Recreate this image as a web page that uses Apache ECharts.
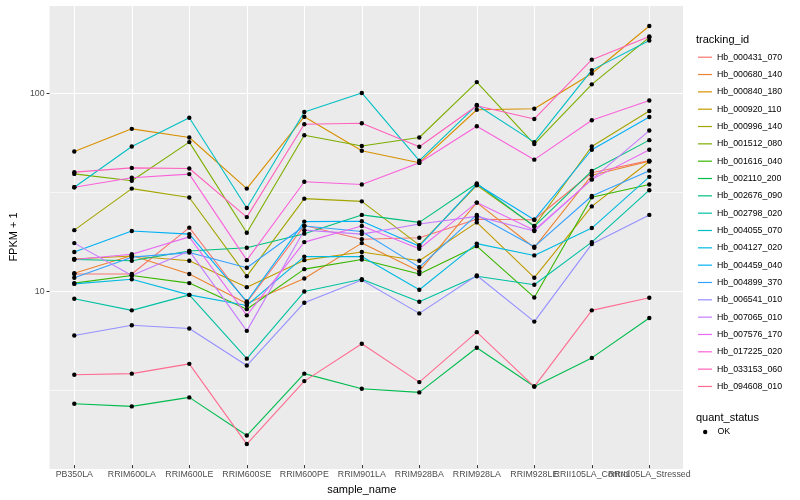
<!DOCTYPE html>
<html><head><meta charset="utf-8">
<script src="https://cdn.jsdelivr.net/npm/echarts@6/dist/echarts.min.js"></script>
<style>html,body{margin:0;padding:0;background:#fff}#c{width:800px;height:500px}</style>
</head><body><div id="c"></div>
<script>
const categories = ['PB350LA','RRIM600LA','RRIM600LE','RRIM600SE','RRIM600PE','RRIM901LA','RRIM928BA','RRIM928LA','RRIM928LE','RRII105LA_Control','RRII105LA_Stressed'];
const trackingIds = ['Hb_000431_070','Hb_000680_140','Hb_000840_180','Hb_000920_110','Hb_000996_140','Hb_001512_080','Hb_001616_040','Hb_002110_200','Hb_002676_090','Hb_002798_020','Hb_004055_070','Hb_004127_020','Hb_004459_040','Hb_004899_370','Hb_006541_010','Hb_007065_010','Hb_007576_170','Hb_017225_020','Hb_033153_060','Hb_094608_010'];

const Hb_000431_070 = [11.9, 11.9, 20.5, 8.52, 21.0, 17.9, 18.2, 22.6, 22.5, 39.0, 45.0];
const Hb_000680_140 = [12.0, 14.8, 11.9, 8.43, 11.3, 17.1, 12.3, 27.5, 16.2, 37.9, 44.7];
const Hb_000840_180 = [50.1, 65.3, 59.0, 32.4, 75.3, 50.5, 43.9, 81.7, 82.6, 125, 218];
const Hb_000920_110 = [14.2, 14.7, 13.9, 10.2, 14.0, 15.4, 13.9, 21.8, 11.4, 26.3, 44.5];
const Hb_000996_140 = [19.9, 32.4, 29.2, 11.6, 28.8, 27.9, 16.7, 33.7, 20.9, 53.1, 80.5];
const Hb_001512_080 = [38.5, 35.5, 55.9, 19.3, 60.6, 53.4, 59.0, 113, 54.6, 110, 191];
const Hb_001616_040 = [10.7, 11.7, 10.7, 7.88, 12.6, 14.1, 11.9, 16.5, 9.04, 29.3, 34.0];
const Hb_002110_200 = [2.60, 2.52, 2.80, 1.79, 3.70, 3.10, 2.97, 5.01, 3.18, 4.45, 7.10];
const Hb_002676_090 = [14.1, 13.9, 15.6, 16.2, 19.1, 23.8, 21.8, 34.4, 20.8, 39.9, 57.2];
const Hb_002798_020 = [8.90, 7.77, 9.32, 4.41, 9.69, 11.2, 8.59, 11.6, 10.5, 17.3, 31.8];
const Hb_004055_070 = [32.9, 53.1, 74.4, 25.8, 79.5, 99.5, 45.0, 86.3, 55.9, 130, 184];
const Hb_004127_020 = [10.6, 11.2, 9.32, 8.23, 14.6, 14.6, 9.89, 17.0, 14.8, 20.4, 37.2];
const Hb_004459_040 = [15.4, 19.7, 19.0, 8.62, 22.0, 22.1, 16.5, 34.1, 22.5, 51.1, 75.0];
const Hb_004899_370 = [11.4, 14.5, 15.3, 12.8, 20.9, 19.6, 12.9, 23.8, 16.4, 29.7, 40.0];
const Hb_006541_010 = [5.79, 6.53, 6.28, 4.07, 8.50, 11.1, 7.50, 11.7, 6.81, 16.9, 23.8];
const Hb_007065_010 = [17.1, 11.7, 15.6, 6.11, 19.9, 19.0, 21.4, 23.4, 19.7, 36.1, 64.0];
const Hb_007576_170 = [14.1, 15.0, 18.4, 7.33, 17.3, 20.9, 16.0, 27.5, 19.9, 36.1, 51.1];
const Hb_017225_020 = [32.9, 36.8, 38.4, 14.0, 35.1, 34.0, 43.9, 67.3, 45.5, 72.2, 91.1];
const Hb_033153_060 = [39.3, 41.3, 41.0, 23.2, 68.9, 69.7, 52.9, 85.6, 73.3, 147, 193];
const Hb_094608_010 = [3.65, 3.70, 4.15, 1.62, 3.39, 5.25, 3.35, 6.02, 3.18, 7.77, 9.01];

const seriesValues = [Hb_000431_070, Hb_000680_140, Hb_000840_180, Hb_000920_110, Hb_000996_140, Hb_001512_080, Hb_001616_040, Hb_002110_200, Hb_002676_090, Hb_002798_020, Hb_004055_070, Hb_004127_020, Hb_004459_040, Hb_004899_370, Hb_006541_010, Hb_007065_010, Hb_007576_170, Hb_017225_020, Hb_033153_060, Hb_094608_010];
const quantStatus = ['OK'];
const yMinorBreaks = [3.162, 31.62];

const colors = ['#F8766D','#EA8331','#D89000','#C09B00','#A3A500','#7CAE00','#39B600','#00BB4E','#00BF7D','#00C1A3','#00BFC4','#00BAE0','#00B0F6','#35A2FF','#9590FF','#C77CFF','#E76BF3','#FA62DB','#FF62BC','#FF6C91'];
const FONT = '"Liberation Sans", Arial, sans-serif';
const Y_MIN = 1.266, Y_MAX = 279;

const chart = echarts.init(document.getElementById('c'), null, {renderer: 'canvas'});

const series = [];
series.push({
  name: '_minor', type: 'line', xAxisIndex: 0, yAxisIndex: 0, data: [], silent: true, z: 1,
  markLine: {silent: true, symbol: ['none', 'none'], label: {show: false}, animation: false,
    emphasis: {disabled: true},
    lineStyle: {color: '#ffffff', width: 0.6, type: 'solid'},
    data: yMinorBreaks.map(v => ({yAxis: v}))}
});
series.push({
  name: '_vgrid', type: 'line', xAxisIndex: 1, yAxisIndex: 1, data: [], silent: true, z: 1,
  markLine: {silent: true, symbol: ['none', 'none'], label: {show: false}, animation: false,
    emphasis: {disabled: true},
    lineStyle: {color: '#ffffff', width: 1.1, type: 'solid'},
    data: categories.map(c => ({xAxis: c}))}
});
trackingIds.forEach((id, k) => {
  series.push({
    name: id, type: 'line', xAxisIndex: 1, yAxisIndex: 1, z: 2, zlevel: 1,
    data: seriesValues[k], showSymbol: false, symbol: 'none',
    lineStyle: {color: colors[k], width: 1.1}, itemStyle: {color: colors[k]},
    emphasis: {disabled: true}, animation: false
  });
});
const points = [];
seriesValues.forEach(vals => vals.forEach((v, i) => points.push([categories[i], v])));
series.push({
  name: quantStatus[0], type: 'scatter', xAxisIndex: 1, yAxisIndex: 1, z: 3, zlevel: 1,
  data: points, symbol: 'circle', symbolSize: 4.4,
  itemStyle: {color: '#000000', opacity: 1, borderWidth: 0}, emphasis: {disabled: true}, animation: false
});

const option = {
  animation: false,
  backgroundColor: '#ffffff',
  textStyle: {fontFamily: FONT},
  title: [
    {text: 'tracking_id', left: 696, top: 34, padding: 0,
      textStyle: {fontFamily: FONT, fontSize: 11, fontWeight: 'normal', color: '#000'}},
    {text: 'quant_status', left: 696, top: 412, padding: 0,
      textStyle: {fontFamily: FONT, fontSize: 11, fontWeight: 'normal', color: '#000'}}
  ],
  legend: [
    {orient: 'vertical', left: 698, top: 48.7, padding: 0, selectedMode: false,
      data: trackingIds, icon: 'rect', itemWidth: 14, itemHeight: 1.2, itemGap: 0.33,
      textStyle: {fontFamily: FONT, fontSize: 8.8, color: '#000', lineHeight: 17}},
    {orient: 'vertical', left: 703, top: 423.5, padding: 0, selectedMode: false,
      data: quantStatus, icon: 'circle', itemWidth: 4.4, itemHeight: 4.4,
      itemStyle: {opacity: 1},
      textStyle: {fontFamily: FONT, fontSize: 8.8, color: '#000', lineHeight: 17, padding: [0, 0, 0, 5]}}
  ],
  grid: [
    {left: 38, right: 117, top: 5, bottom: 31, show: true, backgroundColor: '#EBEBEB', borderWidth: 0},
    {left: 45.55, right: 121.95, top: 5, bottom: 31, show: false}
  ],
  xAxis: [
    {type: 'value', gridIndex: 0, min: 0, max: 1, show: false},
    {type: 'category', gridIndex: 1, data: categories, boundaryGap: true,
      axisLine: {show: false},
      axisTick: {show: true, alignWithLabel: true, length: 3, lineStyle: {color: '#333333', width: 1}},
      axisLabel: {interval: 0, margin: 5, fontFamily: FONT, fontSize: 8.8, color: '#4D4D4D'},
      splitLine: {show: false},
      name: 'sample_name', nameLocation: 'middle', nameGap: 15,
      nameTextStyle: {fontFamily: FONT, fontSize: 11, color: '#000'}}
  ],
  yAxis: [
    {type: 'log', logBase: 10, gridIndex: 0, min: Y_MIN, max: Y_MAX,
      axisLine: {show: false},
      axisTick: {show: true, length: 3, lineStyle: {color: '#333333', width: 1}},
      axisLabel: {margin: 5, fontFamily: FONT, fontSize: 8.8, color: '#4D4D4D',
        showMinLabel: false, showMaxLabel: false},
      splitLine: {show: true, lineStyle: {color: '#ffffff', width: 1.1}},
      name: 'FPKM + 1', nameLocation: 'middle', nameGap: 20, nameRotate: 90,
      nameTextStyle: {fontFamily: FONT, fontSize: 11, color: '#000'}},
    {type: 'log', logBase: 10, gridIndex: 1, min: Y_MIN, max: Y_MAX, show: false}
  ],
  series: series
};
chart.setOption(option);
</script>
</body></html>
